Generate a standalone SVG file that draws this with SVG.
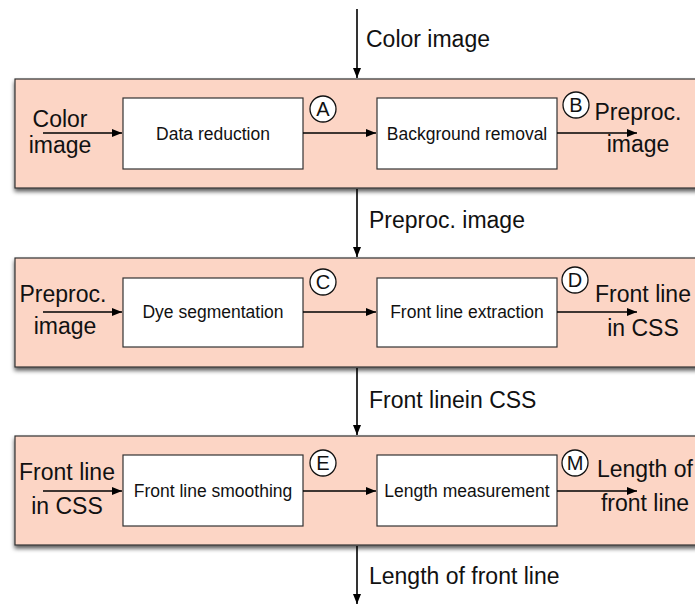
<svg xmlns="http://www.w3.org/2000/svg" width="695" height="605" viewBox="0 0 695 605">
<style>
.panel{fill:#fcd5c5;stroke:#333;stroke-width:1.2}
.box{fill:#fff;stroke:#333;stroke-width:1.2}
.lbl{font-family:"Liberation Sans",Arial,sans-serif;font-size:23px;fill:#111}
.btx{font-family:"Liberation Sans",Arial,sans-serif;font-size:17.5px;fill:#111;text-anchor:middle}
.mid{text-anchor:middle}
.circ{fill:#fff;stroke:#111;stroke-width:1.3}
.ctx{font-family:"Liberation Sans",Arial,sans-serif;font-size:20px;fill:#111;text-anchor:middle}
.ar{stroke:#000;stroke-width:1.6;fill:none;marker-end:url(#ah)}
</style>
<defs>
<marker id="ah" viewBox="0 0 10 8" refX="10" refY="4" markerWidth="10" markerHeight="8" markerUnits="userSpaceOnUse" orient="auto">
<path d="M0,0 L10,4 L0,8 Z" fill="#000"/>
</marker>
<filter id="sh" x="-5%" y="-10%" width="115%" height="130%">
<feDropShadow dx="0" dy="3" stdDeviation="2.2" flood-color="#000" flood-opacity="0.65"/>
</filter>
</defs>
<g id="panel1">
<rect class="panel" x="15" y="79" width="690" height="109" filter="url(#sh)"/>
<text class="lbl mid" x="60" y="127">Color</text>
<text class="lbl mid" x="60" y="153">image</text>
<text class="lbl mid" x="638" y="120">Preproc.</text>
<text class="lbl mid" x="638" y="152">image</text>
</g>
<g id="panel2">
<rect class="panel" x="15" y="258" width="690" height="109" filter="url(#sh)"/>
<text class="lbl mid" x="63" y="302">Preproc.</text>
<text class="lbl mid" x="65" y="334">image</text>
<text class="lbl mid" x="643" y="302">Front line</text>
<text class="lbl mid" x="643" y="336">in CSS</text>
</g>
<g id="panel3">
<rect class="panel" x="15" y="436" width="690" height="109" filter="url(#sh)"/>
<text class="lbl mid" x="67" y="480">Front line</text>
<text class="lbl mid" x="67" y="514">in CSS</text>
<text class="lbl" x="597" y="477">Length of</text>
<text class="lbl mid" x="645" y="511">front line</text>
</g>
<g id="data-reduction">
<rect class="box" x="123" y="98" width="180" height="71"/>
<text class="btx" x="213" y="140">Data reduction</text>
</g>
<g id="background-removal">
<rect class="box" x="377" y="98" width="180" height="71"/>
<text class="btx" x="467" y="140">Background removal</text>
</g>
<g id="dye-segmentation">
<rect class="box" x="123" y="278" width="180" height="69"/>
<text class="btx" x="213" y="318">Dye segmentation</text>
</g>
<g id="front-line-extraction">
<rect class="box" x="377" y="278" width="180" height="69"/>
<text class="btx" x="467" y="318">Front line extraction</text>
</g>
<g id="front-line-smoothing">
<rect class="box" x="123" y="455" width="180" height="71"/>
<text class="btx" x="213" y="497">Front line smoothing</text>
</g>
<g id="length-measurement">
<rect class="box" x="377" y="455" width="180" height="71"/>
<text class="btx" x="467" y="497">Length measurement</text>
</g>
<g id="markers">
<g id="mA"><circle class="circ" cx="323" cy="109" r="13"/><text class="ctx" x="323" y="116">A</text></g>
<g id="mB"><circle class="circ" cx="576" cy="105" r="13"/><text class="ctx" x="576" y="112">B</text></g>
<g id="mC"><circle class="circ" cx="323" cy="282" r="13"/><text class="ctx" x="323" y="289">C</text></g>
<g id="mD"><circle class="circ" cx="575" cy="280" r="13"/><text class="ctx" x="575" y="287">D</text></g>
<g id="mE"><circle class="circ" cx="323" cy="463" r="13"/><text class="ctx" x="323" y="470">E</text></g>
<g id="mM"><circle class="circ" cx="575" cy="463" r="13"/><text class="ctx" x="575" y="470">M</text></g>
</g>
<g id="connectors">
<line class="ar" x1="357" y1="9" x2="357" y2="78"/>
<line class="ar" x1="357" y1="189" x2="357" y2="257"/>
<line class="ar" x1="357" y1="368" x2="357" y2="435"/>
<line class="ar" x1="357" y1="546" x2="357" y2="604"/>
<line class="ar" x1="43" y1="133" x2="122" y2="133"/>
<line class="ar" x1="303" y1="133" x2="376" y2="133"/>
<line class="ar" x1="557" y1="133" x2="637" y2="133"/>
<line class="ar" x1="43" y1="312" x2="122" y2="312"/>
<line class="ar" x1="303" y1="312" x2="376" y2="312"/>
<line class="ar" x1="557" y1="312" x2="637" y2="312"/>
<line class="ar" x1="43" y1="491" x2="122" y2="491"/>
<line class="ar" x1="303" y1="491" x2="376" y2="491"/>
<line class="ar" x1="557" y1="491" x2="637" y2="491"/>
<text class="lbl" x="366" y="47">Color image</text>
<text class="lbl" x="369" y="228">Preproc. image</text>
<text class="lbl" x="369" y="408">Front linein CSS</text>
<text class="lbl" x="369" y="584">Length of front line</text>
</g>
</svg>
